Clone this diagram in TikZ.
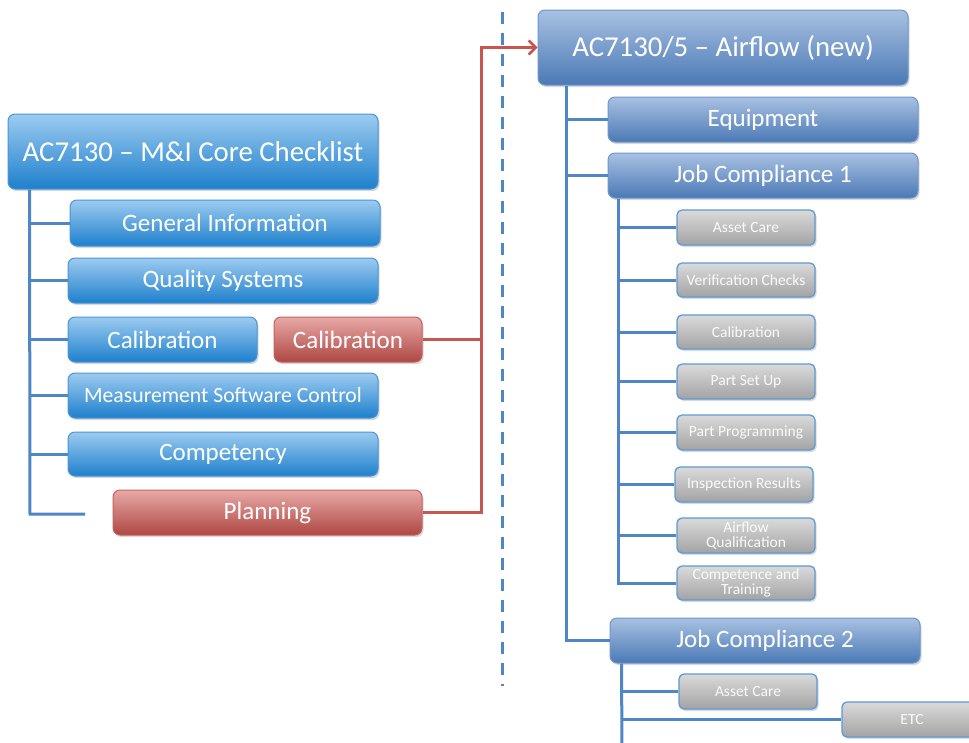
\documentclass[tikz,border=0pt]{standalone}
\usepackage{fontspec}
\setmainfont{Carlito}
\usetikzlibrary{shadows,arrows.meta}
\definecolor{lbtop}{HTML}{9CCBF0}
\definecolor{lbbot}{HTML}{1E80CC}
\definecolor{lbdraw}{HTML}{4A95D8}
\definecolor{rbtop}{HTML}{A8C1E2}
\definecolor{rbbot}{HTML}{4B79B5}
\definecolor{rbdraw}{HTML}{6E96CB}
\definecolor{rdtop}{HTML}{E8A9A6}
\definecolor{rdbot}{HTML}{AE4743}
\definecolor{rddraw}{HTML}{C8605C}
\definecolor{grtop}{HTML}{DADADA}
\definecolor{grbot}{HTML}{A3A3A3}
\definecolor{grdraw}{HTML}{5D9AD6}
\definecolor{bline}{HTML}{4F86C6}
\definecolor{rline}{HTML}{C9554F}
\tikzset{
  x=1pt, y=1pt,
  base/.style={rounded corners=7pt, inner sep=0pt, text=white, align=center, line width=1pt,
    drop shadow={opacity=0.3, shadow xshift=1.5pt, shadow yshift=-2pt}},
  lbox/.style={base, draw=lbdraw, top color=lbtop, bottom color=lbbot},
  rbox/.style={base, draw=rbdraw, top color=rbtop, bottom color=rbbot},
  redbox/.style={base, draw=rddraw, top color=rdtop, bottom color=rdbot},
  graybox/.style={base, rounded corners=5pt, draw=grdraw, line width=1.3pt, top color=grtop, bottom color=grbot,
    text=white!96!gray, font=\fontsize{15.5}{16}\selectfont},
  bl/.style={draw=bline, line width=3pt},
  rl/.style={draw=rline, line width=3pt},
  big/.style={font=\fontsize{28.8}{30}\selectfont},
  mid/.style={font=\fontsize{25}{27}\selectfont},
}
\newcommand\bx[7]{\node[#6, minimum width={#4-#2}, minimum height={#5-#3}] (#1) at ({(#2+#4)/2},{-(#3+#5)/2}) {#7};}
\begin{document}
\begin{tikzpicture}
\useasboundingbox (0,0) rectangle (969,-742);
\clip (0,0) rectangle (969,-742);
\fill[white] (0,0) rectangle (969,-742);
% left side
\bx{L}{8}{114}{378}{189}{lbox,big}{AC7130 – M\&I Core Checklist}
\bx{gi}{70}{200}{380}{246}{lbox,mid}{General Information}
\bx{qs}{68}{258}{378}{303}{lbox,mid}{Quality Systems}
\bx{cb}{68}{317}{257}{362}{lbox,mid}{Calibration}
\bx{cr}{274}{317}{422}{362}{redbox,mid}{Calibration}
\bx{ms}{68}{373}{378}{418}{lbox,font=\fontsize{21.7}{23}\selectfont}{Measurement Software Control}
\bx{cp}{68}{432}{378}{476}{lbox,mid}{Competency}
\bx{pl}{113}{490}{422}{535}{redbox,mid}{Planning}
\coordinate (lt) at ([xshift=22pt]L.south west);
\coordinate (lb) at (30,-514);
\coordinate (le) at (85,-514);
\draw[bl] (lt) -- (lb) -- (le);
\foreach \n in {gi,qs,cb,ms,cp} \draw[bl] (lt |- \n.west) -- (\n.west);
% red connectors
\coordinate (rj) at (481,-48);
\draw[dashed, draw=bline, line width=3pt, dash pattern=on 12pt off 9pt] (502,-12) -- (502,-686);
\draw[rl] (cr.east) -- (cr.east -| rj);
% right side
\bx{R}{538}{10}{908}{85}{rbox,big}{AC7130/5 – Airflow (new)}
\draw[rl, -{Straight Barb[length=7pt,width=14pt,line width=2.5pt]}] (pl.east) -- (pl.east -| rj) -- (rj |- R.west) -- (R.west);
\bx{eq}{608}{97}{918}{142}{rbox,mid}{Equipment}
\bx{ja}{608}{153}{918}{198}{rbox,mid}{Job Compliance 1}
\bx{jb}{610}{618}{920}{663}{rbox,mid}{Job Compliance 2}
\coordinate (rt) at ([xshift=29pt]R.south west);
\draw[bl] (rt) -- (rt |- jb.west) -- (jb.west);
\foreach \n in {eq,ja} \draw[bl] (rt |- \n.west) -- (\n.west);
% job compliance 1 children
\bx{a1}{677}{210}{815}{245}{graybox}{Asset Care}
\bx{v1}{677}{263}{815}{297}{graybox}{Verification Checks}
\bx{c1}{677}{315}{815}{349}{graybox}{Calibration}
\bx{p1}{677}{364}{815}{399}{graybox}{Part Set Up}
\bx{g1}{677}{415}{815}{450}{graybox}{Part Programming}
\bx{i1}{675}{467}{813}{502}{graybox}{Inspection Results}
\bx{q1}{677}{518}{815}{553}{graybox}{Airflow\\[-1pt]Qualification}
\bx{t1}{677}{566}{815}{600}{graybox}{Competence and\\[-1pt]Training}
\coordinate (st) at ([xshift=11pt]ja.south west);
\draw[bl] (st) -- (st |- t1.west) -- (t1.west);
\foreach \n in {a1,v1,c1,p1,g1,i1,q1} \draw[bl] (st |- \n.west) -- (\n.west);
% job compliance 2 children
\bx{a2}{679}{674}{817}{709}{graybox}{Asset Care}
\bx{et}{842}{702}{982}{737}{graybox}{ETC}
\coordinate (su) at ([xshift=12pt]jb.south west);
\coordinate (sb) at (622,-750);
\draw[bl] (su) -- (sb);
\foreach \n in {a2,et} \draw[bl] (su |- \n.west) -- (\n.west);
\end{tikzpicture}
\end{document}
